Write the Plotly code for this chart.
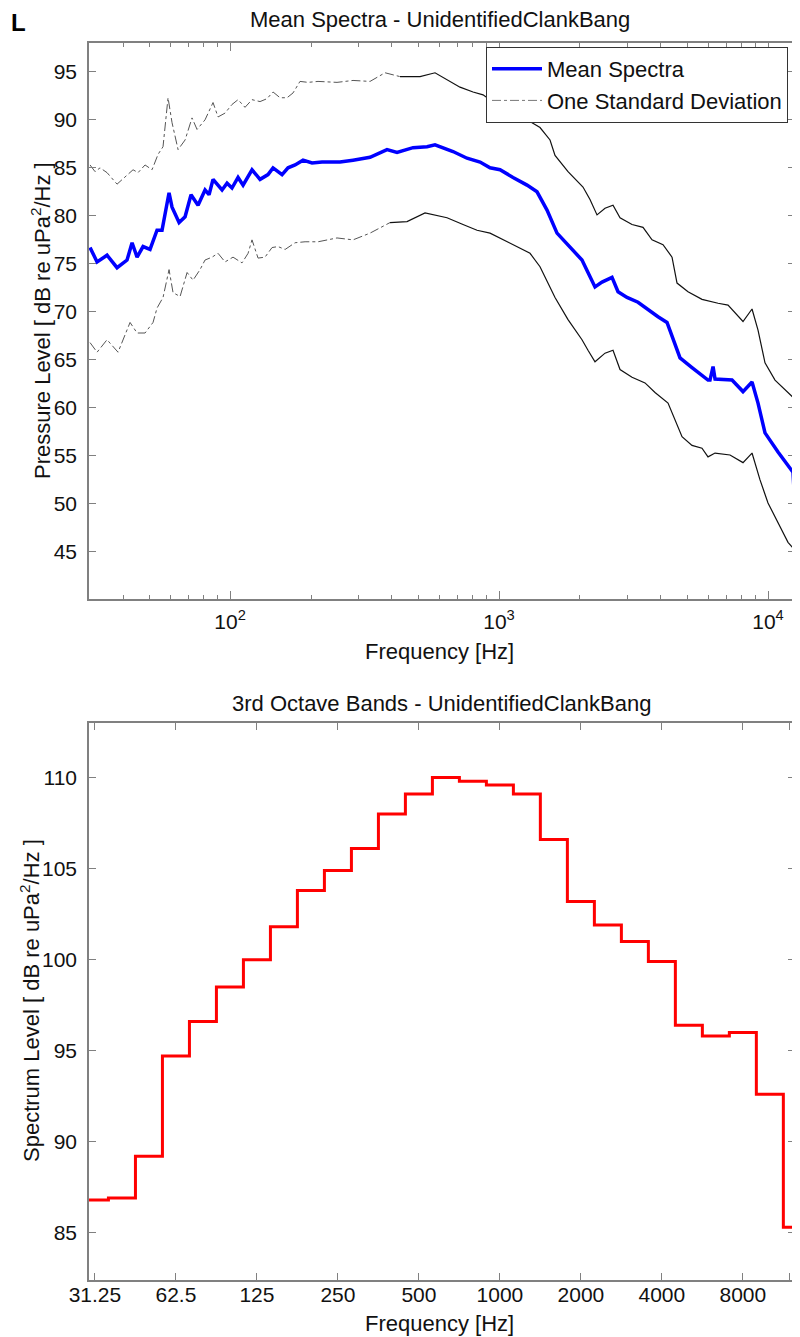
import math
import plotly.graph_objects as go

# ---------------- Top panel: mean spectra ----------------
mean_freq_hz = [30.17, 32.04, 34.89, 38.01, 41.41, 43.23, 45.12, 47.49, 50.42, 53.53,
                55.87, 59.33, 60.87, 64.65, 68.06, 71.61, 76.04, 80.74, 83.55, 86.46,
                93.39, 97.47, 101.7, 107.1, 111.8, 120.7, 129.3, 138.4, 144.5, 156.1,
                164.3, 174.5, 186.8, 201.8, 219.8, 256.4, 286.6, 331.5, 383.4, 417.7,
                479.0, 540.0, 578.2, 619.2, 674.5, 760.3, 850.1, 926.0, 1008.6, 1127.4,
                1270.8, 1384.5, 1508.2, 1643.0, 1805.2, 2034.6, 2142.0, 2274.3, 2415.0, 2631.0,
                2769.7, 2991.5, 3286.8, 3580.6, 3900.6, 4213.0, 4435.1, 4708.9, 5217.3, 5683.4,
                5983.6, 6087.0, 6247.3, 6355.0, 7348.8, 8074.3, 8721.8, 9180.9, 9746.0, 10895.0,
                11868.0, 12388.0, 12495.0]
mean_level_db = [76.7, 75.2, 75.9, 74.6, 75.4, 77.2, 75.7, 76.8, 76.5, 78.5,
                 78.5, 82.4, 80.9, 79.3, 79.9, 82.2, 81.1, 82.7, 82.2, 83.8,
                 82.7, 83.4, 82.9, 84.0, 83.2, 84.8, 83.8, 84.3, 85.0, 84.3,
                 85.0, 85.3, 85.8, 85.5, 85.6, 85.6, 85.8, 86.1, 86.9, 86.6,
                 87.1, 87.2, 87.4, 87.1, 86.7, 86.0, 85.6, 85.0, 84.8, 84.0,
                 83.2, 82.5, 80.6, 78.2, 77.0, 75.4, 74.1, 72.6, 73.1, 73.6,
                 72.1, 71.5, 71.0, 70.2, 69.5, 68.9, 67.1, 65.2, 64.2, 63.4,
                 62.9, 62.9, 64.3, 63.0, 62.9, 61.7, 62.7, 60.5, 57.4, 55.4,
                 53.9, 53.3, 51.5]

upper_freq_hz = [30.17, 31.49, 32.87, 34.89, 38.01, 40.71, 43.60, 45.50, 48.31, 51.29,
                 53.99, 56.35, 58.82, 60.87, 64.09, 68.06, 72.23, 75.39, 80.74, 86.46,
                 90.24, 95.81, 101.7, 107.1, 113.7, 120.7, 129.3, 137.2, 144.5, 153.4,
                 162.9, 171.5, 182.0, 195.0, 212.4, 249.9, 286.6, 331.5, 376.9, 428.5,
                 508.6, 578.2, 640.8, 716.1, 800.6, 872.2, 1071.0, 1270.8, 1420.5, 1547.4,
                 1615.1, 1805.2, 2052.1, 2179.0, 2313.6, 2477.7, 2653.6, 2817.5, 3122.3, 3430.6,
                 3705.3, 4071.2, 4397.3, 4589.6, 5041.9, 5683.4, 6520.8, 7102.1, 8074.3, 8721.8,
                 9180.9, 9746.0, 10618.0, 11568.0, 12388.0]
upper_level_db = [85.3, 84.6, 85.0, 84.5, 83.3, 84.0, 84.8, 84.5, 85.3, 84.8,
                  86.4, 87.2, 92.3, 89.7, 86.9, 87.9, 90.2, 89.0, 90.0, 91.8,
                  90.3, 90.7, 91.6, 92.1, 91.3, 92.1, 91.9, 92.2, 92.9, 92.3,
                  92.3, 92.8, 94.0, 93.9, 94.0, 93.9, 94.1, 94.0, 94.9, 94.5,
                  94.5, 94.9, 94.2, 93.4, 92.9, 92.6, 90.8, 90.0, 89.2, 87.9,
                  86.3, 84.6, 83.0, 81.7, 80.1, 80.8, 81.1, 79.8, 79.1, 78.8,
                  77.5, 77.0, 75.7, 73.0, 72.1, 71.3, 70.9, 70.7, 69.0, 70.3,
                  68.1, 64.7, 62.9, 61.9, 61.1]

lower_freq_hz = [30.17, 32.04, 34.89, 38.34, 42.49, 45.12, 48.31, 51.73, 53.53, 56.35,
                 59.33, 61.40, 65.20, 69.24, 72.86, 77.35, 80.74, 85.72, 90.24, 95.81,
                 102.6, 110.8, 116.7, 120.7, 127.1, 134.9, 143.3, 150.8, 160.2, 174.5,
                 190.1, 212.4, 249.9, 286.6, 331.5, 393.4, 455.0, 530.8, 578.2, 640.8,
                 734.7, 828.5, 926.0, 1034.8, 1166.6, 1303.9, 1420.5, 1547.4, 1615.1, 1805.2,
                 2034.6, 2142.0, 2274.3, 2477.7, 2653.6, 2817.5, 3122.3, 3489.8, 3801.7, 4249.3,
                 4511.7, 4790.2, 5217.3, 5683.4, 5983.6, 6355.0, 7224.0, 8074.3, 8721.8, 9339.4,
                 10000.0, 10895.0, 11868.0, 12388.0]
lower_level_db = [66.8, 65.8, 67.1, 65.8, 68.9, 67.8, 67.8, 68.9, 70.4, 71.5,
                  74.4, 72.0, 71.6, 74.1, 73.3, 74.4, 75.4, 75.7, 76.1, 75.2,
                  75.7, 75.1, 76.1, 77.5, 75.6, 75.7, 76.7, 76.8, 76.5, 77.2,
                  77.3, 77.3, 77.7, 77.5, 78.2, 79.3, 79.4, 80.3, 80.1, 79.8,
                  79.1, 78.5, 78.2, 77.5, 76.8, 76.1, 74.7, 72.6, 71.5, 69.2,
                  67.1, 66.0, 64.8, 65.7, 66.0, 64.0, 63.2, 62.6, 61.6, 60.5,
                  58.7, 57.0, 56.1, 55.8, 54.9, 55.3, 55.1, 54.3, 55.3, 52.5,
                  50.1, 48.0, 46.0, 45.4]

top_y_ticks = [45, 50, 55, 60, 65, 70, 75, 80, 85, 90, 95]
top_x_major = [100, 1000, 10000]
top_x_major_text = ["10<sup>2</sup>", "10<sup>3</sup>", "10<sup>4</sup>"]
top_x_minor = [40, 50, 60, 70, 80, 90, 200, 300, 400, 500, 600, 700, 800, 900,
               2000, 3000, 4000, 5000, 6000, 7000, 8000, 9000]

# ---------------- Bottom panel: third-octave bands ----------------
band_center_hz = [31.25, 39.37, 49.61, 62.5, 78.75, 99.21, 125, 157.5, 198.4, 250,
                  315.0, 396.9, 500, 630.0, 793.7, 1000, 1260, 1587, 2000, 2520,
                  3175, 4000, 5040, 6350, 8000, 10079, 12699]
band_level_db = [86.8, 86.9, 89.2, 94.7, 96.6, 98.5, 100.0, 101.8, 103.8, 104.9,
                 106.1, 108.0, 109.1, 110.0, 109.8, 109.6, 109.1, 106.6, 103.2, 101.9,
                 101.0, 99.9, 96.4, 95.8, 96.0, 92.6, 85.3]
band_tick_vals = [31.25, 62.5, 125, 250, 500, 1000, 2000, 4000, 8000, 11900]
band_tick_text = ["31.25", "62.5", "125", "250", "500", "1000", "2000", "4000", "8000", " "]
bottom_y_ticks = [85, 90, 95, 100, 105, 110]

FONT = "Liberation Sans, Arial, Helvetica, sans-serif"
# the page body adds an 8px offset; the figure covers the rest of the 800x1337 window
OX, OY = 8, 8
W, H = 800 - OX, 1337 - OY

def px_x(p):
    return (p - OX) / W

def px_y(p):
    return 1 - (p - OY) / H

# stairs: each band drawn from its lower edge to the next band's lower edge
third = 2 ** (1 / 6)
stair_x = [c / third for c in band_center_hz] + [band_center_hz[-1] * third]
stair_y = band_level_db + [band_level_db[-1]]

fig = go.Figure()

split_hz = 450.0
def split(freqs, vals):
    lo_f = [f for f in freqs if f <= split_hz]
    lo_v = [v for f, v in zip(freqs, vals) if f <= split_hz]
    hi_f = [lo_f[-1]] + [f for f in freqs if f > split_hz]
    hi_v = [lo_v[-1]] + [v for f, v in zip(freqs, vals) if f > split_hz]
    return lo_f, lo_v, hi_f, hi_v

for fr, lv in [(upper_freq_hz, upper_level_db), (lower_freq_hz, lower_level_db)]:
    lo_f, lo_v, hi_f, hi_v = split(fr, lv)
    fig.add_trace(go.Scatter(x=lo_f, y=lo_v, mode="lines", name="One Standard Deviation",
                             showlegend=False,
                             line=dict(color="#555555", width=1, dash="dashdot"),
                             xaxis="x", yaxis="y"))
    fig.add_trace(go.Scatter(x=hi_f, y=hi_v, mode="lines", name="One Standard Deviation",
                             showlegend=False,
                             line=dict(color="#111111", width=1.2),
                             xaxis="x", yaxis="y"))

fig.add_trace(go.Scatter(x=mean_freq_hz, y=mean_level_db, mode="lines", name="Mean Spectra",
                         legendrank=1, line=dict(color="#0000ff", width=3.5),
                         xaxis="x", yaxis="y"))
# legend entry for the standard deviation style
fig.add_trace(go.Scatter(x=[None], y=[None], mode="lines", name="One Standard Deviation",
                         legendrank=2, line=dict(color="#777777", width=1, dash="dashdot"),
                         xaxis="x", yaxis="y"))

fig.add_trace(go.Scatter(x=stair_x, y=stair_y, mode="lines", line_shape="hv",
                         showlegend=False, line=dict(color="#ff0000", width=3),
                         xaxis="x2", yaxis="y2"))

axis_common = dict(showgrid=False, zeroline=False, showline=True, linecolor="#808080",
                   linewidth=1.5, mirror="allticks", ticks="inside", tickcolor="#808080",
                   tickwidth=1, automargin=False,
                   tickfont=dict(family=FONT, size=21, color="#111111"))

fig.update_layout(
    width=W, height=H,
    margin=dict(l=0, r=0, t=0, b=0, pad=0, autoexpand=False),
    paper_bgcolor="white", plot_bgcolor="white",
    font=dict(family=FONT, color="#111111"),
    xaxis=dict(domain=[px_x(89), px_x(795)], type="log",
               range=[math.log10(29.9), math.log10(12600)],
               tickmode="array", tickvals=top_x_major, ticktext=top_x_major_text,
               ticklen=8, ticklabelstandoff=3,
               minor=dict(tickmode="array", tickvals=top_x_minor, ticks="inside",
                          ticklen=4, tickcolor="#808080"),
               anchor="y", **axis_common),
    yaxis=dict(domain=[px_y(599), px_y(43)], range=[40.1, 98.0],
               tickmode="array", tickvals=top_y_ticks, ticklen=7,
               ticklabelstandoff=6, anchor="x", **axis_common),
    xaxis2=dict(domain=[px_x(89), px_x(795)], type="log",
                range=[math.log10(29.7), math.log10(12500)],
                tickmode="array", tickvals=band_tick_vals, ticktext=band_tick_text,
                ticklen=7, ticklabelstandoff=-5, anchor="y2", **axis_common),
    yaxis2=dict(domain=[px_y(1280), px_y(723)], range=[82.4, 113.0],
                tickmode="array", tickvals=bottom_y_ticks, ticklen=7,
                ticklabelstandoff=6, anchor="x2", **axis_common),
    legend=dict(x=px_x(486), y=px_y(47), xanchor="left", yanchor="top",
                bgcolor="white", bordercolor="#333333", borderwidth=1,
                font=dict(family=FONT, size=22, color="#111111"),
                itemwidth=50, tracegroupgap=0),
    showlegend=True,
)

ann = []
ann.append(dict(text="<b>L</b>", x=px_x(10), y=px_y(8), xanchor="left", yanchor="top",
                borderpad=0, font=dict(family=FONT, size=24, color="black")))
ann.append(dict(text="Mean Spectra - UnidentifiedClankBang", x=px_x(440), y=px_y(20),
                xanchor="center", yanchor="middle",
                font=dict(family=FONT, size=22, color="#111111")))
ann.append(dict(text="3rd Octave Bands - UnidentifiedClankBang", x=px_x(441), y=px_y(703),
                xanchor="center", yanchor="middle",
                font=dict(family=FONT, size=22, color="#111111")))
ann.append(dict(text="Frequency [Hz]", x=px_x(440), y=px_y(651),
                xanchor="center", yanchor="middle",
                font=dict(family=FONT, size=22, color="#111111")))
ann.append(dict(text="Frequency [Hz]", x=px_x(440), y=px_y(1323),
                xanchor="center", yanchor="middle",
                font=dict(family=FONT, size=22, color="#111111")))
ann.append(dict(text="Pressure Level [ dB re uPa<sup>2</sup>/Hz ]", x=px_x(41), y=px_y(321),
                xanchor="center", yanchor="middle", textangle=-90,
                font=dict(family=FONT, size=22, color="#111111")))
ann.append(dict(text="Spectrum Level [ dB re uPa<sup>2</sup>/Hz ]", x=px_x(30), y=px_y(1001),
                xanchor="center", yanchor="middle", textangle=-90,
                font=dict(family=FONT, size=22, color="#111111")))
for a in ann:
    a["xref"] = "paper"
    a["yref"] = "paper"
    a["showarrow"] = False
fig.update_layout(annotations=ann)

fig.write_html("out.html")
